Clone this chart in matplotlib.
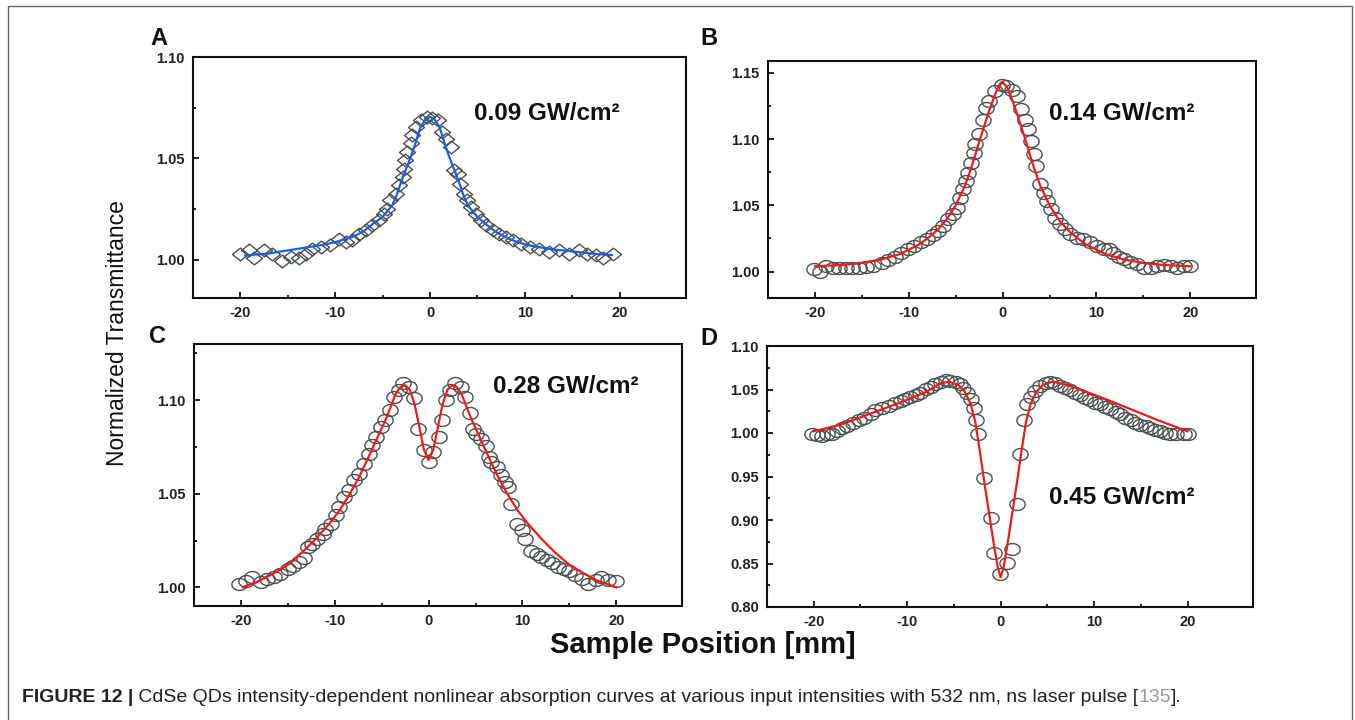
import matplotlib
matplotlib.use("Agg")
import matplotlib.pyplot as plt
from matplotlib.ticker import FixedLocator, FormatStrFormatter
from matplotlib.patches import Rectangle
from matplotlib.path import Path
import numpy as np

# ---------------- data ----------------
# Panel A (diamonds, blue fit)
a_x = [-20.0, -19.1, -18.6, -17.5, -16.7, -15.6, -14.7, -13.8, -13.1, -12.4, -11.5, -10.6,
       -9.6, -8.9, -8.2, -7.5, -6.8, -6.1, -5.4, -4.9, -4.5, -4.2, -3.6, -3.3, -2.9, -2.7,
       -2.6, -2.4, -2.0, -1.9, -1.5, -1.0, -0.3, 0.2, 0.8, 1.3, 1.7, 2.2, 2.5, 2.9, 3.2,
       3.6, 3.9, 4.3, 4.8, 5.4, 5.9, 6.6, 7.3, 8.0, 8.7, 9.6, 10.5, 11.5, 12.6, 13.6, 14.7,
       15.7, 16.6, 17.5, 18.2, 19.3]
a_y = [1.0028, 1.0045, 1.0008, 1.0045, 1.0028, 0.9992, 1.0012, 1.0008, 1.0028, 1.0053, 1.0061,
       1.0074, 1.0102, 1.0086, 1.0094, 1.0127, 1.0144, 1.0168, 1.0193, 1.0226, 1.0251, 1.0292,
       1.0325, 1.0366, 1.0408, 1.0449, 1.0490, 1.0531, 1.0573, 1.0614, 1.0655, 1.0688, 1.0705,
       1.0701, 1.0688, 1.0630, 1.0597, 1.0556, 1.0441, 1.0424, 1.0375, 1.0325, 1.0292, 1.0259,
       1.0226, 1.0193, 1.0168, 1.0144, 1.0127, 1.0111, 1.0094, 1.0078, 1.0061, 1.0053, 1.0036,
       1.0045, 1.0028, 1.0045, 1.0028, 1.0020, 1.0008, 1.0028]
a_fit_x = [-19.5, -17, -15, -13, -11, -10, -9, -8, -7, -6, -5, -4, -3.5, -3, -2.5, -2, -1.5, -1,
           -0.5, 0, 0.5, 1, 1.5, 2, 2.5, 3, 3.5, 4, 5, 6, 7, 8, 9, 10, 11, 13, 15, 17, 19.2]
a_fit_y = [1.002, 1.003, 1.0045, 1.006, 1.0075, 1.0086, 1.010, 1.0115, 1.0140, 1.0177, 1.021,
           1.0267, 1.032, 1.039, 1.045, 1.051, 1.058, 1.0655, 1.069, 1.0705, 1.069, 1.0655, 1.058,
           1.051, 1.045, 1.039, 1.032, 1.0267, 1.021, 1.017, 1.0135, 1.011, 1.009, 1.0075, 1.0065,
           1.005, 1.004, 1.003, 1.0022]

# Panel B (circles, red fit)
b_x = [-20.1, -19.5, -18.8, -18.1, -17.4, -16.7, -16.0, -15.3, -14.6, -13.8, -12.9, -12.2, -11.5,
       -10.8, -10.1, -9.4, -8.7, -8.1, -7.4, -6.9, -6.4, -5.8, -5.3, -4.9, -4.5, -4.2, -3.9, -3.7,
       -3.4, -3.1, -2.9, -2.5, -2.1, -1.8, -1.4, -0.8, -0.1, 0.4, 1.0, 1.5, 2.0, 2.4, 2.7, 3.0,
       3.3, 3.6, 4.0, 4.4, 4.7, 5.2, 5.6, 6.1, 6.7, 7.2, 7.9, 8.6, 9.3, 10.1, 10.8, 11.3, 11.8,
       12.4, 12.9, 13.6, 14.3, 15.1, 15.8, 16.5, 17.2, 17.9, 18.6, 19.3, 20.0]
b_y = [1.0018, 1.0000, 1.0038, 1.0023, 1.0030, 1.0023, 1.0025, 1.0023, 1.0035, 1.0043, 1.0068,
       1.0088, 1.0113, 1.0143, 1.0168, 1.0193, 1.0224, 1.0244, 1.0274, 1.0307, 1.0344, 1.0394,
       1.0432, 1.0482, 1.0558, 1.0621, 1.0683, 1.0746, 1.0822, 1.0897, 1.0960, 1.1035, 1.1148,
       1.1236, 1.1286, 1.1362, 1.1412, 1.1399, 1.1374, 1.1324, 1.1224, 1.1148, 1.1073, 1.0985,
       1.0884, 1.0796, 1.0658, 1.0595, 1.0533, 1.0470, 1.0407, 1.0357, 1.0319, 1.0281, 1.0256,
       1.0244, 1.0224, 1.0193, 1.0168, 1.0168, 1.0143, 1.0113, 1.0093, 1.0075, 1.0055, 1.0030,
       1.0030, 1.0043, 1.0048, 1.0038, 1.0030, 1.0038, 1.0038]
b_fit_x = [-20, -17, -15, -13, -11, -10, -9, -8, -7, -6, -5, -4, -3.5, -3, -2.5, -2, -1.5, -1,
           -0.5, 0, 0.5, 1, 1.5, 2, 2.5, 3, 3.5, 4, 5, 6, 7, 8, 9, 10, 11, 13, 15, 17, 20]
b_fit_y = [1.004, 1.005, 1.0065, 1.009, 1.013, 1.0165, 1.020, 1.025, 1.031, 1.039, 1.050, 1.065,
           1.075, 1.086, 1.098, 1.109, 1.120, 1.130, 1.139, 1.143, 1.139, 1.130, 1.120, 1.109,
           1.098, 1.086, 1.075, 1.065, 1.050, 1.039, 1.031, 1.025, 1.020, 1.0165, 1.013, 1.009,
           1.0065, 1.005, 1.004]

# Panel C (circles, red fit)
c_x = [-20.2, -19.5, -18.8, -17.9, -17.2, -16.5, -15.8, -15.0, -14.4, -13.8, -13.3, -12.9, -12.4,
       -11.9, -11.3, -11.0, -10.4, -9.9, -9.6, -9.0, -8.5, -8.0, -7.4, -6.9, -6.4, -6.0, -5.6,
       -5.1, -4.6, -4.1, -3.7, -3.2, -2.7, -2.1, -1.6, -1.1, -0.5, 0.0, 0.5, 1.1, 1.4, 1.8, 2.3,
       2.8, 3.4, 3.9, 4.4, 4.7, 5.1, 5.6, 6.1, 6.4, 6.7, 7.3, 7.7, 8.1, 8.5, 8.8, 9.4, 9.9, 10.3,
       10.9, 11.5, 12.0, 12.6, 13.2, 13.8, 14.4, 15.0, 15.6, 16.3, 17.0, 17.8, 18.4, 19.1, 20.0]
c_y = [1.0018, 1.0036, 1.0054, 1.0027, 1.0045, 1.0054, 1.0071, 1.0098, 1.0116, 1.0134, 1.0157,
       1.0214, 1.0232, 1.0259, 1.0286, 1.0313, 1.0339, 1.0384, 1.0429, 1.0482, 1.0518, 1.0571,
       1.0607, 1.0661, 1.0714, 1.0759, 1.0804, 1.0857, 1.0893, 1.0946, 1.1018, 1.1054, 1.1089,
       1.1071, 1.1009, 1.0848, 1.0732, 1.0670, 1.0723, 1.0804, 1.0893, 1.1000, 1.1054, 1.1093,
       1.1071, 1.1018, 1.0929, 1.0848, 1.0821, 1.0795, 1.0754, 1.0696, 1.0670, 1.0643, 1.0598,
       1.0563, 1.0536, 1.0446, 1.0339, 1.0304, 1.0259, 1.0196, 1.0179, 1.0161, 1.0146, 1.0129,
       1.0111, 1.0098, 1.0086, 1.0068, 1.0045, 1.0018, 1.0039, 1.0054, 1.0039, 1.0036]
c_fit_x = [-19.8, -18, -16.5, -15, -13.5, -12, -10.5, -9.5, -8.5, -7.5, -6.5, -5.5, -4.5, -3.5,
           -3, -2.5, -2, -1.5, -1, -0.5, 0, 0.5, 1, 1.5, 2, 2.5, 3, 3.5, 4.5, 5.5, 6.5, 7.5, 8.5,
           9.5, 10.5, 12, 13.5, 15, 16.5, 18, 20]
c_fit_y = [1.000, 1.0035, 1.0075, 1.012, 1.0185, 1.026, 1.0345, 1.041, 1.049, 1.058, 1.0685,
           1.0795, 1.0905, 1.1035, 1.107, 1.108, 1.1055, 1.098, 1.086, 1.0735, 1.068, 1.0735,
           1.086, 1.098, 1.1055, 1.108, 1.107, 1.1035, 1.0905, 1.0795, 1.0685, 1.058, 1.049,
           1.041, 1.0345, 1.026, 1.0185, 1.012, 1.0075, 1.0035, 1.000]

# Panel D (circles, red fit)
d_x = [-20.2, -19.6, -19.1, -18.6, -18.0, -17.5, -17.0, -16.4, -15.8, -15.2, -14.6, -13.9, -13.4,
       -12.7, -12.0, -11.3, -10.7, -10.2, -9.7, -9.1, -8.6, -8.0, -7.5, -7.0, -6.4, -5.9, -5.4,
       -4.8, -4.3, -4.0, -3.6, -3.2, -2.9, -2.6, -2.4, -1.8, -1.0, -0.7, -0.1, 0.7, 1.2, 1.7,
       2.1, 2.5, 2.8, 3.2, 3.7, 4.2, 4.8, 5.3, 5.8, 6.4, 6.9, 7.4, 8.0, 8.5, 9.0, 9.6, 10.1,
       10.6, 11.2, 11.7, 12.3, 12.8, 13.3, 13.9, 14.4, 14.9, 15.5, 16.0, 16.5, 17.1, 17.6, 18.1,
       18.8, 19.6, 20.0]
d_y = [0.9985, 0.9977, 0.9966, 0.9985, 0.9992, 1.0023, 1.0054, 1.0080, 1.0119, 1.0146, 1.0176,
       1.0222, 1.0261, 1.0291, 1.0310, 1.0349, 1.0368, 1.0387, 1.0414, 1.0437, 1.0464, 1.0502,
       1.0529, 1.0559, 1.0590, 1.0605, 1.0598, 1.0586, 1.0567, 1.0521, 1.0464, 1.0387, 1.0291,
       1.0146, 0.9992, 0.9487, 0.9019, 0.8617, 0.8383, 0.8510, 0.8663, 0.9180, 0.9762, 1.0146,
       1.0330, 1.0414, 1.0483, 1.0540, 1.0579, 1.0590, 1.0579, 1.0540, 1.0513, 1.0490, 1.0464,
       1.0437, 1.0406, 1.0375, 1.0349, 1.0330, 1.0299, 1.0272, 1.0245, 1.0215, 1.0176, 1.0146,
       1.0119, 1.0092, 1.0080, 1.0054, 1.0031, 1.0023, 1.0004, 0.9992, 0.9992, 0.9992, 0.9992]
d_fit_x = [-20, -17, -14, -11, -8, -6.5, -5.5, -4.5, -3.8, -3.2, -2.7, -2.2, -1.7, -1.2, -0.7,
           -0.3, 0, 0.3, 0.7, 1.2, 1.7, 2.2, 2.7, 3.2, 3.8, 4.5, 5.5, 6.5, 8, 11, 14, 17, 20]
d_fit_y = [1.002, 1.010, 1.022, 1.034, 1.047, 1.057, 1.059, 1.055, 1.047, 1.033, 1.012, 0.977,
           0.940, 0.905, 0.870, 0.845, 0.834, 0.845, 0.870, 0.905, 0.940, 0.977, 1.012, 1.033,
           1.047, 1.055, 1.059, 1.057, 1.052, 1.040, 1.027, 1.014, 1.002]

panel_letters = ["A", "B", "C", "D"]
intensity_labels = ["0.09 GW/cm\u00b2", "0.14 GW/cm\u00b2", "0.28 GW/cm\u00b2", "0.45 GW/cm\u00b2"]
x_ticks = [-20, -10, 0, 10, 20]
x_minor = [-15, -5, 5, 15]
y_ticks = {
    "A": [1.00, 1.05, 1.10],
    "B": [1.00, 1.05, 1.10, 1.15],
    "C": [1.00, 1.05, 1.10],
    "D": [0.80, 0.85, 0.90, 0.95, 1.00, 1.05, 1.10],
}
y_minor = {
    "A": [1.025, 1.075],
    "B": [1.025, 1.075, 1.125],
    "C": [1.025, 1.075, 1.125],
    "D": [0.825, 0.875, 0.925, 0.975, 1.025, 1.075],
}
y_lims = {"A": (0.981, 1.10), "B": (0.98, 1.159), "C": (0.99, 1.13), "D": (0.80, 1.10)}
x_label = "Sample Position [mm]"
y_label = "Normalized Transmittance"
caption_parts = ["FIGURE 12 |",
                 " CdSe QDs intensity-dependent nonlinear absorption curves at various input intensities with 532 nm, ns laser pulse [",
                 "135", "]."]

# ---------------- style ----------------
W, H = 1355, 720
plt.rcParams['font.family'] = ['Liberation Sans', 'DejaVu Sans']
plt.rcParams['axes.unicode_minus'] = False
fig = plt.figure(figsize=(W / 100, H / 100), dpi=100)
fig.patch.set_facecolor('white')

def fx(px):
    return px / W

def fy(py):
    return 1 - py / H

# axes rectangles in pixels: left, top, right, bottom
rects = {"A": (193, 57, 686, 298), "B": (768, 61, 1256, 298),
         "C": (194, 344, 682, 606), "D": (767, 346, 1253, 607)}

t = np.linspace(0, 2 * np.pi, 40)
ellipse_marker = Path(np.column_stack([np.cos(t), 0.78 * np.sin(t)]))
diamond_marker = Path([(-1, 0), (0, 0.8), (1, 0), (0, -0.8), (-1, 0)],
                      [Path.MOVETO, Path.LINETO, Path.LINETO, Path.LINETO, Path.CLOSEPOLY])

series = {
    "A": (a_x, a_y, a_fit_x, a_fit_y, diamond_marker, '#1c5fe4'),
    "B": (b_x, b_y, b_fit_x, b_fit_y, ellipse_marker, '#f01a1a'),
    "C": (c_x, c_y, c_fit_x, c_fit_y, ellipse_marker, '#f01a1a'),
    "D": (d_x, d_y, d_fit_x, d_fit_y, ellipse_marker, '#f01a1a'),
}

edge_col = '#4a5050'
for key in panel_letters:
    l, tp, r, b = rects[key]
    ax = fig.add_axes([fx(l), fy(b), (r - l) / W, (b - tp) / H])
    xs, ys, fxs, fys, mk, lc = series[key]
    ax.plot(xs, ys, linestyle='none', marker=mk, markersize=11.5 if key == "A" else 11,
            markerfacecolor='none', markeredgecolor=edge_col, markeredgewidth=1.0, zorder=2)
    ax.plot(fxs, fys, color=lc, linewidth=1.6, zorder=3)
    ax.set_xlim(-25, 27)
    ax.set_ylim(*y_lims[key])
    ax.xaxis.set_major_locator(FixedLocator(x_ticks))
    ax.xaxis.set_minor_locator(FixedLocator(x_minor))
    ax.yaxis.set_major_locator(FixedLocator(y_ticks[key]))
    ax.yaxis.set_minor_locator(FixedLocator(y_minor[key]))
    ax.yaxis.set_major_formatter(FormatStrFormatter('%.2f'))
    ax.tick_params(which='both', direction='in', top=False, right=False, colors='#111')
    ax.tick_params(which='major', length=4, width=1.3, pad=6, labelsize=10.5)
    ax.tick_params(which='minor', length=2.5, width=1.3)
    for lab in ax.get_xticklabels() + ax.get_yticklabels():
        lab.set_fontweight('bold')
        lab.set_color('#222')
    for sp in ax.spines.values():
        sp.set_linewidth(1.5)
        sp.set_color('#111')

# panel letters
letter_pos = {"A": (150, 45), "B": (700, 45), "C": (149, 343), "D": (700, 345)}
for key in panel_letters:
    x, y = letter_pos[key]
    fig.text(fx(x), fy(y), key, fontsize=17, fontweight='bold', color='#111', va='baseline')

# intensity annotations
ann_pos = [(474, 120), (1049, 120), (493, 393), (1049, 504)]
for (x, y), s in zip(ann_pos, intensity_labels):
    fig.text(fx(x), fy(y), s, fontsize=17.5, fontweight='bold', color='#111', va='baseline')

# axis labels
fig.text(fx(703), fy(645), x_label, fontsize=21, fontweight='bold', color='#111',
         ha='center', va='center')
fig.text(fx(118), fy(333), y_label, rotation=90, fontsize=16.5, color='#111',
         ha='center', va='center', fontweight='medium')

# caption
renderer = fig.canvas.get_renderer()
cx = 22
cap_styles = [('bold', '#222'), ('normal', '#222'), ('normal', '#9a9a9a'), ('normal', '#222')]
for s, (w, c) in zip(caption_parts, cap_styles):
    tx = fig.text(fx(cx), fy(697), s, fontsize=14, fontweight=w, color=c, va='center', ha='left')
    bb = tx.get_window_extent(renderer)
    cx = bb.x1

# outer frame
fig.patches.append(Rectangle((fx(8), fy(730)), (1352 - 8) / W, (730 - 6) / H,
                             transform=fig.transFigure, fill=False, edgecolor='#666',
                             linewidth=1.0, clip_on=False))

fig.savefig('out.png', dpi=100, facecolor='white')
